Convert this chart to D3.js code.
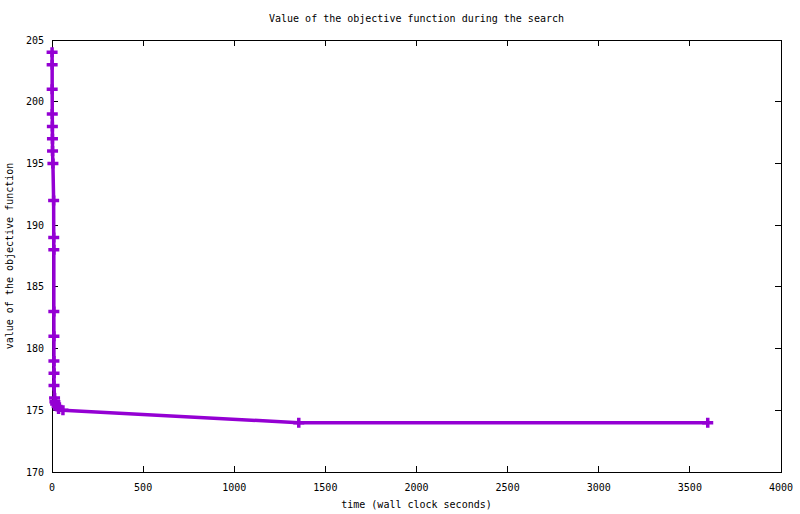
<!DOCTYPE html>
<html>
<head>
<meta charset="utf-8">
<script src="https://cdn.jsdelivr.net/npm/d3@7"></script>
<style>
  body { margin: 0; background: #fff; }
  text { font-family: "DejaVu Sans Mono", monospace; font-size: 10px; fill: #000; }
</style>
</head>
<body>
<div id="paper"></div>
<script>
// wall clock seconds and objective value at each improvement
const times = [0.5, 0.8, 1, 1.5, 2, 2.5, 3, 5, 9, 9.5, 10, 10, 10.5, 10.5, 11, 11, 14, 16, 20, 28, 36, 60, 1354, 3598];
const values = [204, 203, 201, 199, 198, 197, 196, 195, 192, 189, 188, 183, 181, 179, 178, 177, 176, 175.7, 175.5, 175.3, 175.1, 175, 174, 174];
const xTicks = [0, 500, 1000, 1500, 2000, 2500, 3000, 3500, 4000];
const yTicks = [170, 175, 180, 185, 190, 195, 200, 205];

const title = "Value of the objective function during the search";
const xLabel = "time (wall clock seconds)";
const yLabel = "value of the objective function";

const W = 800, H = 514;
const m = {top: 40, right: 19, bottom: 42, left: 52};

const x = d3.scaleLinear().domain([0, 4000]).range([m.left, W - m.right]);
const y = d3.scaleLinear().domain([170, 205]).range([H - m.bottom, m.top]);

const svg = d3.select("#paper")
  .append("svg")
  .attr("width", W)
  .attr("height", H);

const tick = 6;

// y ticks, left and mirrored on the right
svg.selectAll(".ytick")
  .data(yTicks)
  .join("path")
  .attr("class", "ytick")
  .attr("d", d => `M${m.left},${y(d)}h${tick}M${W - m.right},${y(d)}h${-tick}`)
  .attr("stroke", "#000")
  .attr("shape-rendering", "crispEdges");

svg.selectAll(".ylab")
  .data(yTicks)
  .join("text")
  .attr("class", "ylab")
  .attr("x", m.left - 8)
  .attr("y", d => y(d))
  .attr("dy", "0.35em")
  .attr("text-anchor", "end")
  .text(d => d);

// x ticks, bottom and mirrored on top
svg.selectAll(".xtick")
  .data(xTicks)
  .join("path")
  .attr("class", "xtick")
  .attr("d", d => `M${x(d)},${H - m.bottom}v${-tick}M${x(d)},${m.top}v${tick}`)
  .attr("stroke", "#000")
  .attr("shape-rendering", "crispEdges");

svg.selectAll(".xlab")
  .data(xTicks)
  .join("text")
  .attr("class", "xlab")
  .attr("x", d => x(d))
  .attr("y", H - m.bottom + 19)
  .attr("text-anchor", "middle")
  .text(d => d);

// frame
svg.append("rect")
  .attr("x", m.left)
  .attr("y", m.top)
  .attr("width", W - m.left - m.right)
  .attr("height", H - m.top - m.bottom)
  .attr("fill", "none")
  .attr("stroke", "#000")
  .attr("stroke-width", 1)
  .attr("shape-rendering", "crispEdges");

const pts = times.map((t, i) => [t, values[i]]);

svg.append("path")
  .datum(pts)
  .attr("d", d3.line().x(d => x(d[0])).y(d => y(d[1])))
  .attr("fill", "none")
  .attr("stroke", "#9400d3")
  .attr("stroke-width", 3.5);

svg.selectAll(".pt")
  .data(pts)
  .join("path")
  .attr("class", "pt")
  .attr("d", d => `M${x(d[0]) - 5.5},${y(d[1])}h11M${x(d[0])},${y(d[1]) - 5}v10`)
  .attr("stroke", "#9400d3")
  .attr("stroke-width", 3.5);

svg.append("text")
  .attr("x", (m.left + W - m.right) / 2)
  .attr("y", 22)
  .attr("text-anchor", "middle")
  .text(title);

svg.append("text")
  .attr("x", (m.left + W - m.right) / 2)
  .attr("y", 508)
  .attr("text-anchor", "middle")
  .text(xLabel);

svg.append("text")
  .attr("transform", `translate(13,${(m.top + H - m.bottom) / 2}) rotate(-90)`)
  .attr("text-anchor", "middle")
  .text(yLabel);
</script>
</body>
</html>
